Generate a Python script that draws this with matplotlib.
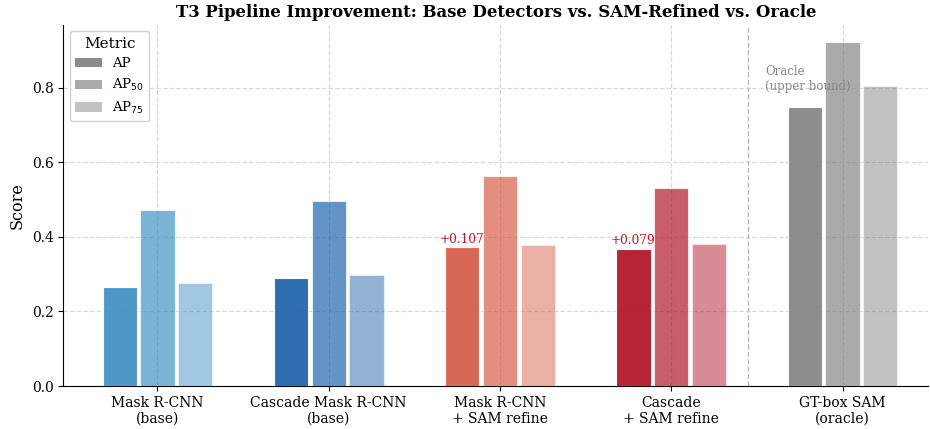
import matplotlib
matplotlib.use("Agg")
import matplotlib.pyplot as plt
import numpy as np
from matplotlib.patches import Patch

plt.rcParams['font.family'] = 'DejaVu Serif'

# Methods (x groups)
methods = ["Mask R-CNN\n(base)", "Cascade Mask R-CNN\n(base)",
           "Mask R-CNN\n+ SAM refine", "Cascade\n+ SAM refine",
           "GT-box SAM\n(oracle)"]
metrics = ["AP", "AP$_{50}$", "AP$_{75}$"]

# Scores
ap = [0.265, 0.289, 0.372, 0.368, 0.749]
ap50 = [0.471, 0.495, 0.563, 0.530, 0.922]
ap75 = [0.275, 0.299, 0.377, 0.380, 0.805]

# Gains of SAM refinement over the base detector (AP)
gains = ["+0.107", "+0.079"]

base_colors = ["#4393c3", "#2166ac", "#d6604d", "#b2182b", "#878787"]
alphas = [0.95, 0.7, 0.5]

fig, ax = plt.subplots(figsize=(9.3, 4.29), dpi=100)
fig.subplots_adjust(left=0.068, right=0.998, top=0.942, bottom=0.10)

x = np.arange(len(methods))
step = 0.22
width = 0.2
for j, vals in enumerate([ap, ap50, ap75]):
    for i in range(len(methods)):
        ax.bar(x[i] + (j - 1) * step, vals[i], width, color=base_colors[i],
               alpha=alphas[j], edgecolor="white", linewidth=0.8, zorder=3)

# gain labels on the SAM-refined AP bars
for k, i in enumerate([2, 3]):
    ax.text(x[i] - step, ap[i] + 0.004, gains[k], ha="center", va="bottom",
            fontsize=8.7, color="#b2182b", zorder=4)

# separator before the oracle
ax.axvline(3.45, color="#bbbbbb", linestyle="--", linewidth=1, zorder=1)
ax.text(3.55, 0.86, "Oracle\n(upper bound)", ha="left", va="top",
        fontsize=8.5, color="#888888", zorder=4)

ax.set_xticks(x)
ax.set_xticklabels(methods, fontsize=10)
ax.set_xlim(-0.55, 4.5)
ax.set_ylim(0, 0.968)
ax.set_yticks([0, 0.2, 0.4, 0.6, 0.8])
ax.tick_params(axis="y", labelsize=10)
ax.set_ylabel("Score", fontsize=11.5)
ax.set_title("T3 Pipeline Improvement: Base Detectors vs. SAM-Refined vs. Oracle",
             fontsize=11.9, fontweight="bold")
ax.grid(True, linestyle="--", color="#d9d9d9", linewidth=0.9, zorder=0)
ax.set_axisbelow(True)
ax.spines["top"].set_visible(False)
ax.spines["right"].set_visible(False)

handles = [Patch(facecolor="#878787", alpha=a) for a in alphas]
ax.legend(handles, metrics, title="Metric", loc="upper left", fontsize=9.5,
          title_fontsize=11, framealpha=0.9)

fig.savefig("out.png", dpi=100)
